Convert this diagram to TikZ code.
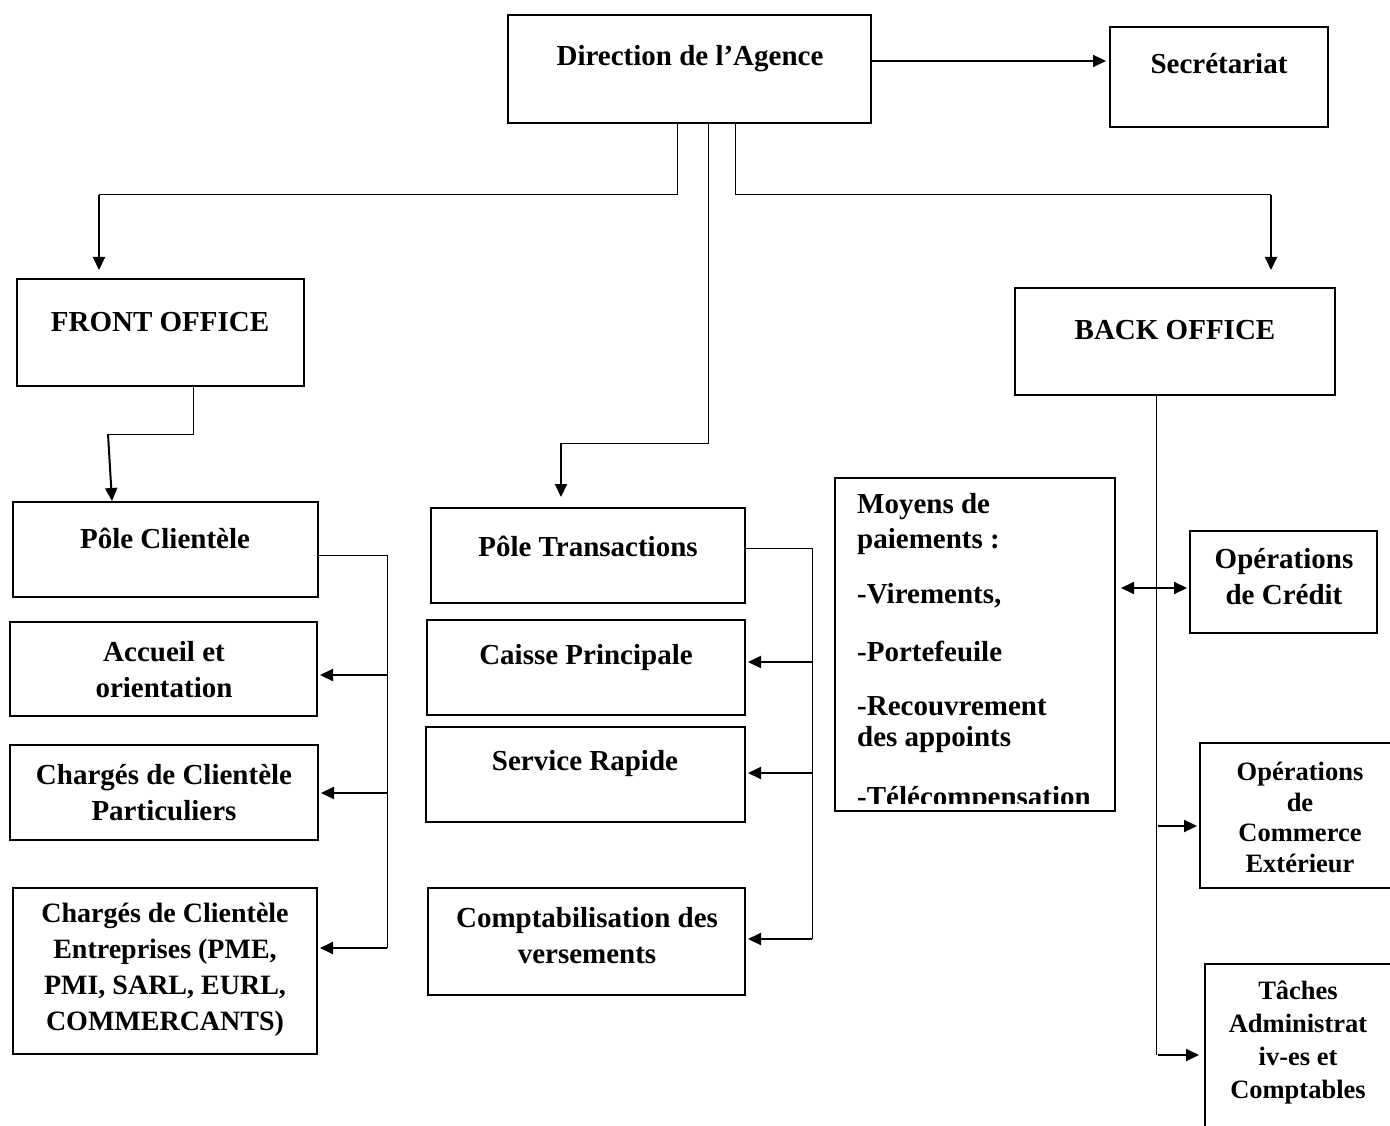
\documentclass[tikz,border=0pt]{standalone}
\usepackage{fontspec}
\setmainfont{Liberation Serif}
\usetikzlibrary{arrows.meta,fit}
\tikzset{
  box/.style={draw, line width=2pt, inner sep=0pt},
  conn/.style={line width=1pt},
  arr/.style={line width=2pt, -{Triangle[length=13pt,width=12pt]}},
  darr/.style={line width=2pt, {Triangle[length=13pt,width=12pt]}-{Triangle[length=13pt,width=12pt]}},
  lbl/.style={font=\fontsize{29}{36}\selectfont\bfseries, align=center, inner sep=0pt},
  elbl/.style={font=\fontsize{28}{36}\selectfont\bfseries, align=center, inner sep=0pt},
  slbl/.style={font=\fontsize{26.5}{30.5}\selectfont\bfseries, align=center, inner sep=0pt},
  tlbl/.style={font=\fontsize{26.5}{33}\selectfont\bfseries, align=center, inner sep=0pt},
  llbl/.style={font=\fontsize{29}{36}\selectfont\bfseries, anchor=west, inner sep=0pt},
}
\begin{document}
\begin{tikzpicture}[x=1pt,y=-1pt]
\useasboundingbox (0,0) rectangle (1390,1126);
% boxes
\node[box, fit={(508,15)(871,123)}] (dir) {};
\node[box, fit={(1110,27)(1328,127)}] (sec) {};
\node[box, fit={(17,279)(304,386)}] (fo) {};
\node[box, fit={(1015,288)(1335,395)}] (bo) {};
\node[box, fit={(13,502)(318,597)}] (pc) {};
\node[box, fit={(10,622)(317,716)}] (acc) {};
\node[box, fit={(10,745)(318,840)}] (cpart) {};
\node[box, fit={(13,888)(317,1054)}] (cent) {};
\node[box, fit={(431,508)(745,603)}] (pt) {};
\node[box, fit={(427,620)(745,715)}] (cp) {};
\node[box, fit={(426,727)(745,822)}] (sr) {};
\node[box, fit={(428,888)(745,995)}] (cv) {};
\node[box, fit={(835,478)(1115,811)}] (moy) {};
\node[box, fit={(1190,531)(1377,633)}] (oc) {};
\node[box, fit={(1200,743)(1400,888)}] (com) {};
\node[box, fit={(1205,964)(1400,1140)}] (tac) {};
% labels
\node[lbl] at (690,59) {Direction de l’Agence};
\node[lbl] at (1219,64) {Secrétariat};
\node[lbl] at (160,322) {FRONT OFFICE};
\node[lbl] at (1175,330) {BACK OFFICE};
\node[lbl] at (165,538) {Pôle Clientèle};
\node[lbl] at (164,669.5) {Accueil et\\orientation};
\node[lbl] at (164,793) {Chargés de Clientèle\\Particuliers};
\node[elbl] at (165,970) {Chargés de Clientèle\\Entreprises (PME,\\PMI, SARL, EURL,\\COMMERCANTS)};
\node[lbl] at (588,546) {Pôle Transactions};
\node[lbl] at (586,658) {Caisse Principale};
\node[lbl] at (585,764) {Service Rapide};
\node[lbl] at (587,936) {Comptabilisation des\\versements};
\node[lbl] at (1284,577) {Opérations\\de Crédit};
\node[slbl] at (1300,817.5) {Opérations\\de\\Commerce\\Extérieur};
\node[tlbl] at (1298,1042) {Tâches\\Administrat\\iv-es et\\Comptables};
\begin{scope}
\clip (moy.north west) rectangle (1115,803);
\node[llbl] at (857,507) {Moyens de};
\node[llbl] at (857,542) {paiements :};
\node[llbl] at (857,596) {-Virements,};
\node[llbl] at (857,651) {-Portefeuile};
\node[llbl] at (857,706) {-Recouvrement};
\node[llbl] at (857,740) {des appoints};
\node[llbl] at (857,800) {-Télécompensation};
\end{scope}
% connectors
\draw[arr, shorten >=3pt] (dir.east |- 0,61) -- (sec.west |- 0,61);
\coordinate (j1) at (99,195);
\coordinate (j2) at (1271,195);
\coordinate (j3) at (561,443);
\coordinate (j4) at (108,434);
\draw[conn] (677,0 |- dir.south) |- (j1);
\draw[arr, shorten >=8pt] (j1) -- (j1 |- fo.north);
\draw[conn] (735,0 |- dir.south) |- (j2);
\draw[arr, shorten >=17pt] (j2) -- (j2 |- bo.north);
\draw[conn] (708,0 |- dir.south) |- (j3);
\draw[arr, shorten >=10pt] (j3) -- (j3 |- pt.north);
\draw[conn] (193,0 |- fo.south) |- (j4);
\draw[arr] (j4) -- (112,0 |- pc.north);
% pole clientele trunk
\coordinate (t1) at (387,948);
\draw[conn] (pc.east |- 0,555) -| (t1);
\draw[arr, shorten >=2pt] (387,675) -- (acc.east |- 0,675);
\draw[arr, shorten >=2pt] (387,793) -- (cpart.east |- 0,793);
\draw[arr, shorten >=2pt] (t1) -- (cent.east |- t1);
% pole transactions trunk
\coordinate (t2) at (812,939);
\draw[conn] (pt.east |- 0,548) -| (t2);
\draw[arr, shorten >=2pt] (812,662) -- (cp.east |- 0,662);
\draw[arr, shorten >=2pt] (812,773) -- (sr.east |- 0,773);
\draw[arr, shorten >=2pt] (t2) -- (cv.east |- t2);
% back office trunk
\coordinate (t3) at (1156,1055);
\draw[conn] (1156,0 |- bo.south) -- (t3);
\draw[darr, shorten <=5pt, shorten >=2pt] (moy.east |- 0,588) -- (oc.west |- 0,588);
\draw[arr, shorten >=2pt] (1158,826) -- (com.west |- 0,826);
\draw[arr, shorten >=5pt] (1158,1055) -- (tac.west |- 0,1055);
\end{tikzpicture}
\end{document}
